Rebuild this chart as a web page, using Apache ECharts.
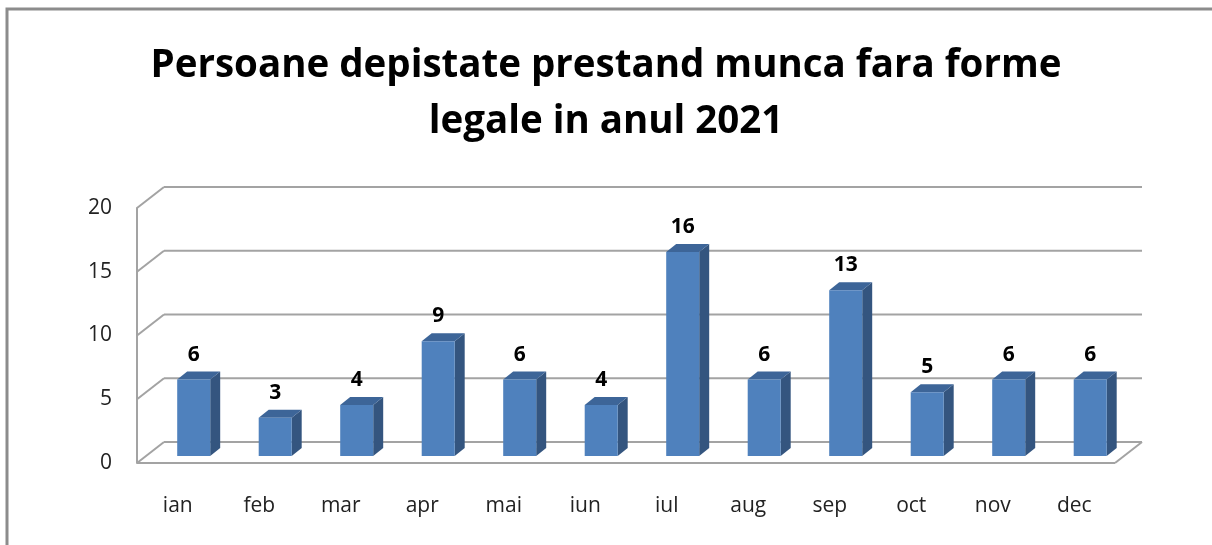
<!DOCTYPE html>
<html>
<head>
<meta charset="utf-8">
<script src="https://cdn.jsdelivr.net/npm/echarts@6/dist/echarts.min.js"></script>
<style>html,body{margin:0;padding:0;background:#fff}#c{width:1212px;height:545px}</style>
</head>
<body>
<div id="c"></div>
<script>
var categories = ['ian','feb','mar','apr','mai','iun','iul','aug','sep','oct','nov','dec'];
var values = [6, 3, 4, 9, 6, 4, 16, 6, 13, 5, 6, 6];
var yTicks = [0, 5, 10, 15, 20];
var titleText = 'Persoane depistate prestand munca fara forme\nlegale in anul 2021';

var DX = 27, DY = -21;          // depth offset of the back wall
var GRID = '#A3A3A3';
var FRONT = '#4F81BD', TOP = '#3D6598', SIDE = '#34557F';

var chart = echarts.init(document.getElementById('c'));

function gridItem(params, api) {
  var v = api.value(0);
  var p = api.coord([0, v]);
  var bw = api.size([1, 0])[0];
  var xl = p[0] - bw / 2;
  var xr = api.coord([categories.length - 1, v])[0] + bw / 2;
  var st = { stroke: GRID, lineWidth: 2 };
  var children = [
    { type: 'line', shape: { x1: xl, y1: p[1], x2: xl + DX, y2: p[1] + DY }, style: st },
    { type: 'line', shape: { x1: xl + DX, y1: p[1] + DY, x2: xr + DX, y2: p[1] + DY }, style: st }
  ];
  if (v === 0) {
    children.push({ type: 'line', shape: { x1: xl, y1: p[1], x2: xr, y2: p[1] }, style: st });
    children.push({ type: 'line', shape: { x1: xr, y1: p[1], x2: xr + DX, y2: p[1] + DY }, style: st });
  }
  return { type: 'group', children: children };
}

function barItem(params, api) {
  var i = api.value(0), v = api.value(1);
  var base = api.coord([i, 0]);
  var top = api.coord([i, v]);
  var bw = api.size([1, 0])[0];
  var fw = bw * 0.405;
  var ox = DX * 0.3, oy = DY * 0.33;   // bar sits partly into the depth
  var dx = DX * 0.37, dy = DY * 0.38;  // bar depth
  var x0 = base[0] - bw * 0.1 + ox - 0.5;
  var x1 = x0 + fw;
  var yb = base[1] + oy;
  var yt = top[1] + oy;
  return {
    type: 'group',
    children: [
      { type: 'polygon', shape: { points: [[x1, yb], [x1, yt], [x1 + dx, yt + dy], [x1 + dx, yb + dy]] }, style: { fill: SIDE } },
      { type: 'polygon', shape: { points: [[x0, yt], [x1, yt], [x1 + dx, yt + dy], [x0 + dx, yt + dy]] }, style: { fill: TOP } },
      { type: 'rect', shape: { x: x0, y: yt, width: fw, height: yb - yt }, style: { fill: FRONT } },
      { type: 'text', style: { text: String(v), x: (x0 + x1) / 2, y: yt - 25, align: 'center', verticalAlign: 'middle',
        font: 'bold 21px "Open Sans", sans-serif', fill: '#000' } }
    ]
  };
}

chart.setOption({
  animation: false,
  backgroundColor: '#fff',
  title: {
    text: titleText,
    left: 'center',
    top: 33,
    textStyle: { fontFamily: '"Open Sans", sans-serif', fontWeight: 'bold', fontSize: 38.5, lineHeight: 56, color: '#000' }
  },
  graphic: [
    { type: 'polyline', shape: { points: [[7, 600], [7, 9], [1300, 9]] }, style: { stroke: '#8C8C8C', lineWidth: 3, fill: null }, silent: true }
  ],
  grid: { left: 137, top: 208, width: 978, height: 255 },
  xAxis: {
    type: 'category',
    data: categories,
    axisLine: { show: false },
    axisTick: { show: false },
    axisLabel: { margin: 33, fontSize: 21, color: '#222', fontFamily: '"Open Sans", sans-serif' }
  },
  yAxis: {
    type: 'value',
    min: 0, max: 20, interval: 5,
    axisLine: { show: true, lineStyle: { color: GRID, width: 2 } },
    axisTick: { show: false },
    splitLine: { show: false },
    axisLabel: { margin: 25, fontSize: 21, color: '#222', fontFamily: '"Open Sans", sans-serif' }
  },
  series: [
    { type: 'custom', renderItem: gridItem, data: yTicks.map(function (t) { return [t]; }), encode: { y: 0 }, z: 1, silent: true },
    { type: 'custom', renderItem: barItem, data: values.map(function (v, i) { return [i, v]; }), encode: { x: 0, y: 1 }, z: 2 }
  ]
});
</script>
</body>
</html>
